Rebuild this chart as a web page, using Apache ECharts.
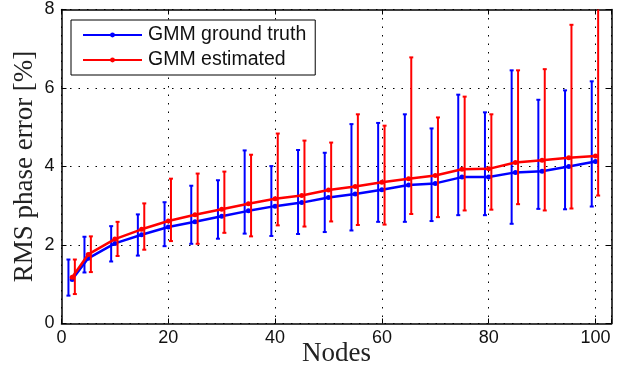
<!DOCTYPE html>
<html>
<head>
<meta charset="utf-8">
<script src="https://cdn.jsdelivr.net/npm/echarts@6/dist/echarts.min.js"></script>
<style>
  html, body { margin: 0; padding: 0; background: #fff; }
  #chart { width: 627px; height: 372px; }
</style>
</head>
<body>
<div id="chart"></div>
<script>
// number of nodes (x positions)
const nodes = [2, 5, 10, 15, 20, 25, 30, 35, 40, 45, 50, 55, 60, 65, 70, 75, 80, 85, 90, 95, 100];

// GMM ground truth: mean, lower and upper ends of the error bars
const truthMean = [1.12, 1.66, 2.04, 2.26, 2.46, 2.59, 2.73, 2.87, 2.99, 3.08, 3.21, 3.30, 3.41, 3.53, 3.57, 3.73, 3.73, 3.85, 3.88, 4.00, 4.13];
const truthLow  = [0.71, 1.30, 1.58, 1.73, 1.97, 2.03, 2.16, 2.29, 2.23, 2.28, 2.33, 2.37, 2.59, 2.59, 2.61, 2.76, 2.76, 2.54, 2.92, 2.91, 2.98];
const truthHigh = [1.63, 2.21, 2.48, 2.78, 3.09, 3.51, 3.65, 4.41, 4.01, 4.42, 4.35, 5.08, 5.11, 5.33, 4.97, 5.83, 5.38, 6.45, 5.70, 5.94, 6.17];

// GMM estimated
const estMean = [1.18, 1.76, 2.15, 2.40, 2.61, 2.77, 2.91, 3.05, 3.18, 3.26, 3.40, 3.49, 3.60, 3.69, 3.77, 3.93, 3.94, 4.10, 4.16, 4.22, 4.27];
const estLow  = [0.75, 1.31, 1.72, 1.88, 2.10, 2.03, 2.31, 2.22, 2.50, 2.47, 2.60, 2.51, 2.52, 2.79, 2.71, 2.88, 2.90, 3.04, 2.88, 2.93, 3.26];
const estHigh = [1.63, 2.22, 2.59, 3.06, 3.69, 3.82, 3.87, 4.30, 4.84, 4.66, 4.61, 5.33, 5.04, 6.78, 5.25, 5.78, 5.33, 6.45, 6.48, 7.61, 8.60];

const xTicks = [0, 20, 40, 60, 80, 100];
const yTicks = [0, 2, 4, 6, 8];

const BLUE = '#0000ff';
const RED = '#ff0000';
const tickFont = 'Liberation Sans, Arial, sans-serif';
const titleFont = 'Liberation Serif, Times New Roman, serif';

// error bars are shifted a little sideways so the two series don't overlap
function errBars(offset, color) {
  return function (params, api) {
    const cs = params.coordSys;
    const x = api.value(0) + offset;
    const lo = api.coord([x, api.value(1)]);
    const hi = api.coord([x, api.value(2)]);
    const top = Math.max(hi[1], cs.y);
    const cap = 2;
    const style = { stroke: color, lineWidth: 2 };
    const kids = [
      { type: 'line', shape: { x1: lo[0], y1: lo[1], x2: hi[0], y2: top }, style: style },
      { type: 'line', shape: { x1: lo[0] - cap, y1: lo[1], x2: lo[0] + cap, y2: lo[1] }, style: style }
    ];
    if (hi[1] >= cs.y) {
      kids.push({ type: 'line', shape: { x1: hi[0] - cap, y1: hi[1], x2: hi[0] + cap, y2: hi[1] }, style: style });
    }
    return { type: 'group', children: kids };
  };
}

const truthBars = nodes.map((n, i) => [n, truthLow[i], truthHigh[i]]);
const estBars = nodes.map((n, i) => [n, estLow[i], estHigh[i]]);

const dotted = { color: '#000', width: 1, type: [1.5, 7] };

const chart = echarts.init(document.getElementById('chart'), null, { renderer: 'canvas' });
chart.setOption({
  animation: false,
  backgroundColor: '#fff',
  grid: { left: 61.5, right: 15.5, top: 9.5, bottom: 48.5, outerBoundsMode: 'none', containLabel: false },
  legend: {
    data: ['GMM ground truth', 'GMM estimated'],
    orient: 'vertical',
    left: 71,
    top: 20,
    padding: [5, 9, 5, 11],
    itemGap: 5,
    itemWidth: 59,
    itemHeight: 6,
    backgroundColor: '#fff',
    borderColor: '#000',
    borderWidth: 1,
    textStyle: { fontFamily: tickFont, fontSize: 19.5, lineHeight: 20, color: '#111', padding: [0, 0, 0, 1] }
  },
  xAxis: [{
    type: 'value', min: 0, max: 103, interval: 20,
    name: 'Nodes', nameLocation: 'middle', nameGap: 17, nameMoveOverlap: false,
    nameTextStyle: { fontFamily: titleFont, fontSize: 27, color: '#222' },
    axisLine: { lineStyle: { color: '#000', width: 1.5 } },
    axisTick: { inside: true, length: 5, lineStyle: { color: '#000' } },
    axisLabel: {
      fontFamily: tickFont, fontSize: 18, color: '#111', margin: 6,
      formatter: v => (xTicks.indexOf(v) >= 0 ? String(v) : '')
    },
    splitLine: { show: true, lineStyle: dotted }
  }, {
    type: 'value', min: 0, max: 103, interval: 20, position: 'top',
    axisLine: { show: true, onZero: false, lineStyle: { color: '#000', width: 1.5 } },
    axisTick: { inside: true, length: 5, lineStyle: { color: '#000' } },
    axisLabel: { show: false },
    splitLine: { show: false }
  }],
  yAxis: [{
    type: 'value', min: 0, max: 8, interval: 2,
    name: 'RMS phase error [%]', nameLocation: 'middle', nameGap: 23, nameMoveOverlap: false,
    nameTextStyle: { fontFamily: titleFont, fontSize: 27, color: '#222' },
    axisLine: { show: true, lineStyle: { color: '#000', width: 1.5 } },
    axisTick: { show: true, inside: true, length: 5, lineStyle: { color: '#000' } },
    axisLabel: {
      fontFamily: tickFont, fontSize: 18, color: '#111', margin: 7,
      formatter: v => (yTicks.indexOf(v) >= 0 ? String(v) : '')
    },
    splitLine: { show: true, lineStyle: dotted }
  }, {
    type: 'value', min: 0, max: 8, interval: 2, position: 'right',
    axisLine: { show: true, onZero: false, lineStyle: { color: '#000', width: 1.5 } },
    axisTick: { show: true, inside: true, length: 5, lineStyle: { color: '#000' } },
    axisLabel: { show: false },
    splitLine: { show: false }
  }],
  series: [
    {
      name: 'truth bars', type: 'custom', renderItem: errBars(-0.7, BLUE),
      data: truthBars, encode: { x: 0, y: [1, 2] }, z: 2
    },
    {
      name: 'GMM ground truth', type: 'line',
      data: nodes.map((n, i) => [n, truthMean[i]]),
      color: BLUE, symbol: 'circle', symbolSize: 5, showSymbol: true,
      lineStyle: { color: BLUE, width: 2.5 }, itemStyle: { color: BLUE }, z: 3
    },
    {
      name: 'est bars', type: 'custom', renderItem: errBars(0.5, RED),
      data: estBars, encode: { x: 0, y: [1, 2] }, z: 4
    },
    {
      name: 'GMM estimated', type: 'line',
      data: nodes.map((n, i) => [n, estMean[i]]),
      color: RED, symbol: 'circle', symbolSize: 5, showSymbol: true,
      lineStyle: { color: RED, width: 2.5 }, itemStyle: { color: RED }, z: 5
    }
  ]
});
</script>
</body>
</html>
